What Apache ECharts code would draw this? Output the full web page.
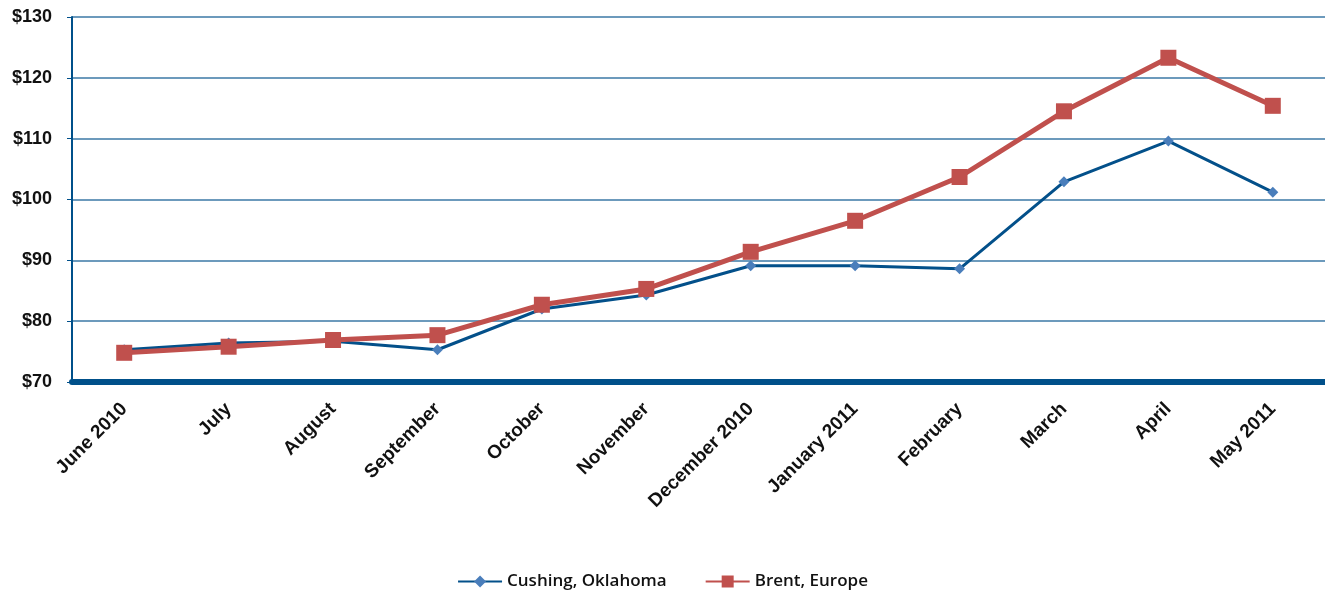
<!DOCTYPE html>
<html>
<head>
<meta charset="utf-8">
<script src="https://cdn.jsdelivr.net/npm/echarts@6/dist/echarts.min.js"></script>
<style>
  html, body { margin: 0; padding: 0; background: #ffffff; }
  #chart { width: 1325px; height: 592px; }
</style>
</head>
<body>
<div id="chart"></div>
<script>
// Monthly crude oil spot prices, dollars per barrel
const months = ['June 2010', 'July', 'August', 'September', 'October', 'November',
  'December 2010', 'January 2011', 'February', 'March', 'April', 'May 2011'];
const cushing = [75.3, 76.4, 76.7, 75.3, 82.0, 84.3, 89.1, 89.1, 88.6, 102.9, 109.6, 101.2];
const brent = [74.8, 75.8, 76.9, 77.7, 82.7, 85.3, 91.4, 96.5, 103.7, 114.5, 123.3, 115.4];
const yMin = 70, yMax = 130, yStep = 10;

const labelFont = '"Liberation Sans", Arial, Helvetica, sans-serif';

const chart = echarts.init(document.getElementById('chart'), null, { renderer: 'canvas' });
chart.setOption({
  animation: false,
  backgroundColor: '#ffffff',
  grid: { left: 72, right: -1, top: 17, bottom: 210, containLabel: false },
  legend: {
    bottom: -3,
    left: 'center',
    itemWidth: 44,
    itemHeight: 15,
    itemGap: 38,
    textStyle: { fontFamily: '"Open Sans", sans-serif', fontSize: 17, fontWeight: 600, color: '#111' },
    data: ['Cushing, Oklahoma', 'Brent, Europe']
  },
  xAxis: {
    type: 'category',
    data: months,
    boundaryGap: true,
    axisLine: { lineStyle: { color: '#00508a', width: 6 } },
    axisTick: { show: false },
    axisLabel: {
      rotate: 45,
      margin: 24,
      fontFamily: labelFont,
      fontWeight: 'bold',
      fontSize: 19,
      color: '#111'
    }
  },
  yAxis: {
    type: 'value',
    min: yMin,
    max: yMax,
    interval: yStep,
    axisLine: { show: true, lineStyle: { color: '#00508a', width: 2 } },
    axisTick: { show: true, length: 5, lineStyle: { color: '#00508a', width: 1 } },
    splitLine: { lineStyle: { color: '#3b78a6', width: 1.5 } },
    axisLabel: {
      formatter: v => '$' + v,
      margin: 20,
      fontFamily: labelFont,
      fontWeight: 'bold',
      fontSize: 18,
      color: '#111'
    }
  },
  series: [
    {
      name: 'Cushing, Oklahoma',
      type: 'line',
      data: cushing,
      symbol: 'diamond',
      symbolSize: 11,
      lineStyle: { color: '#03508a', width: 3 },
      itemStyle: { color: '#4a7ebb' },
      z: 2
    },
    {
      name: 'Brent, Europe',
      type: 'line',
      data: brent,
      symbol: 'rect',
      symbolSize: 16,
      lineStyle: { color: '#c0504d', width: 5 },
      itemStyle: { color: '#c0504d' },
      z: 3
    }
  ]
});
</script>
</body>
</html>
